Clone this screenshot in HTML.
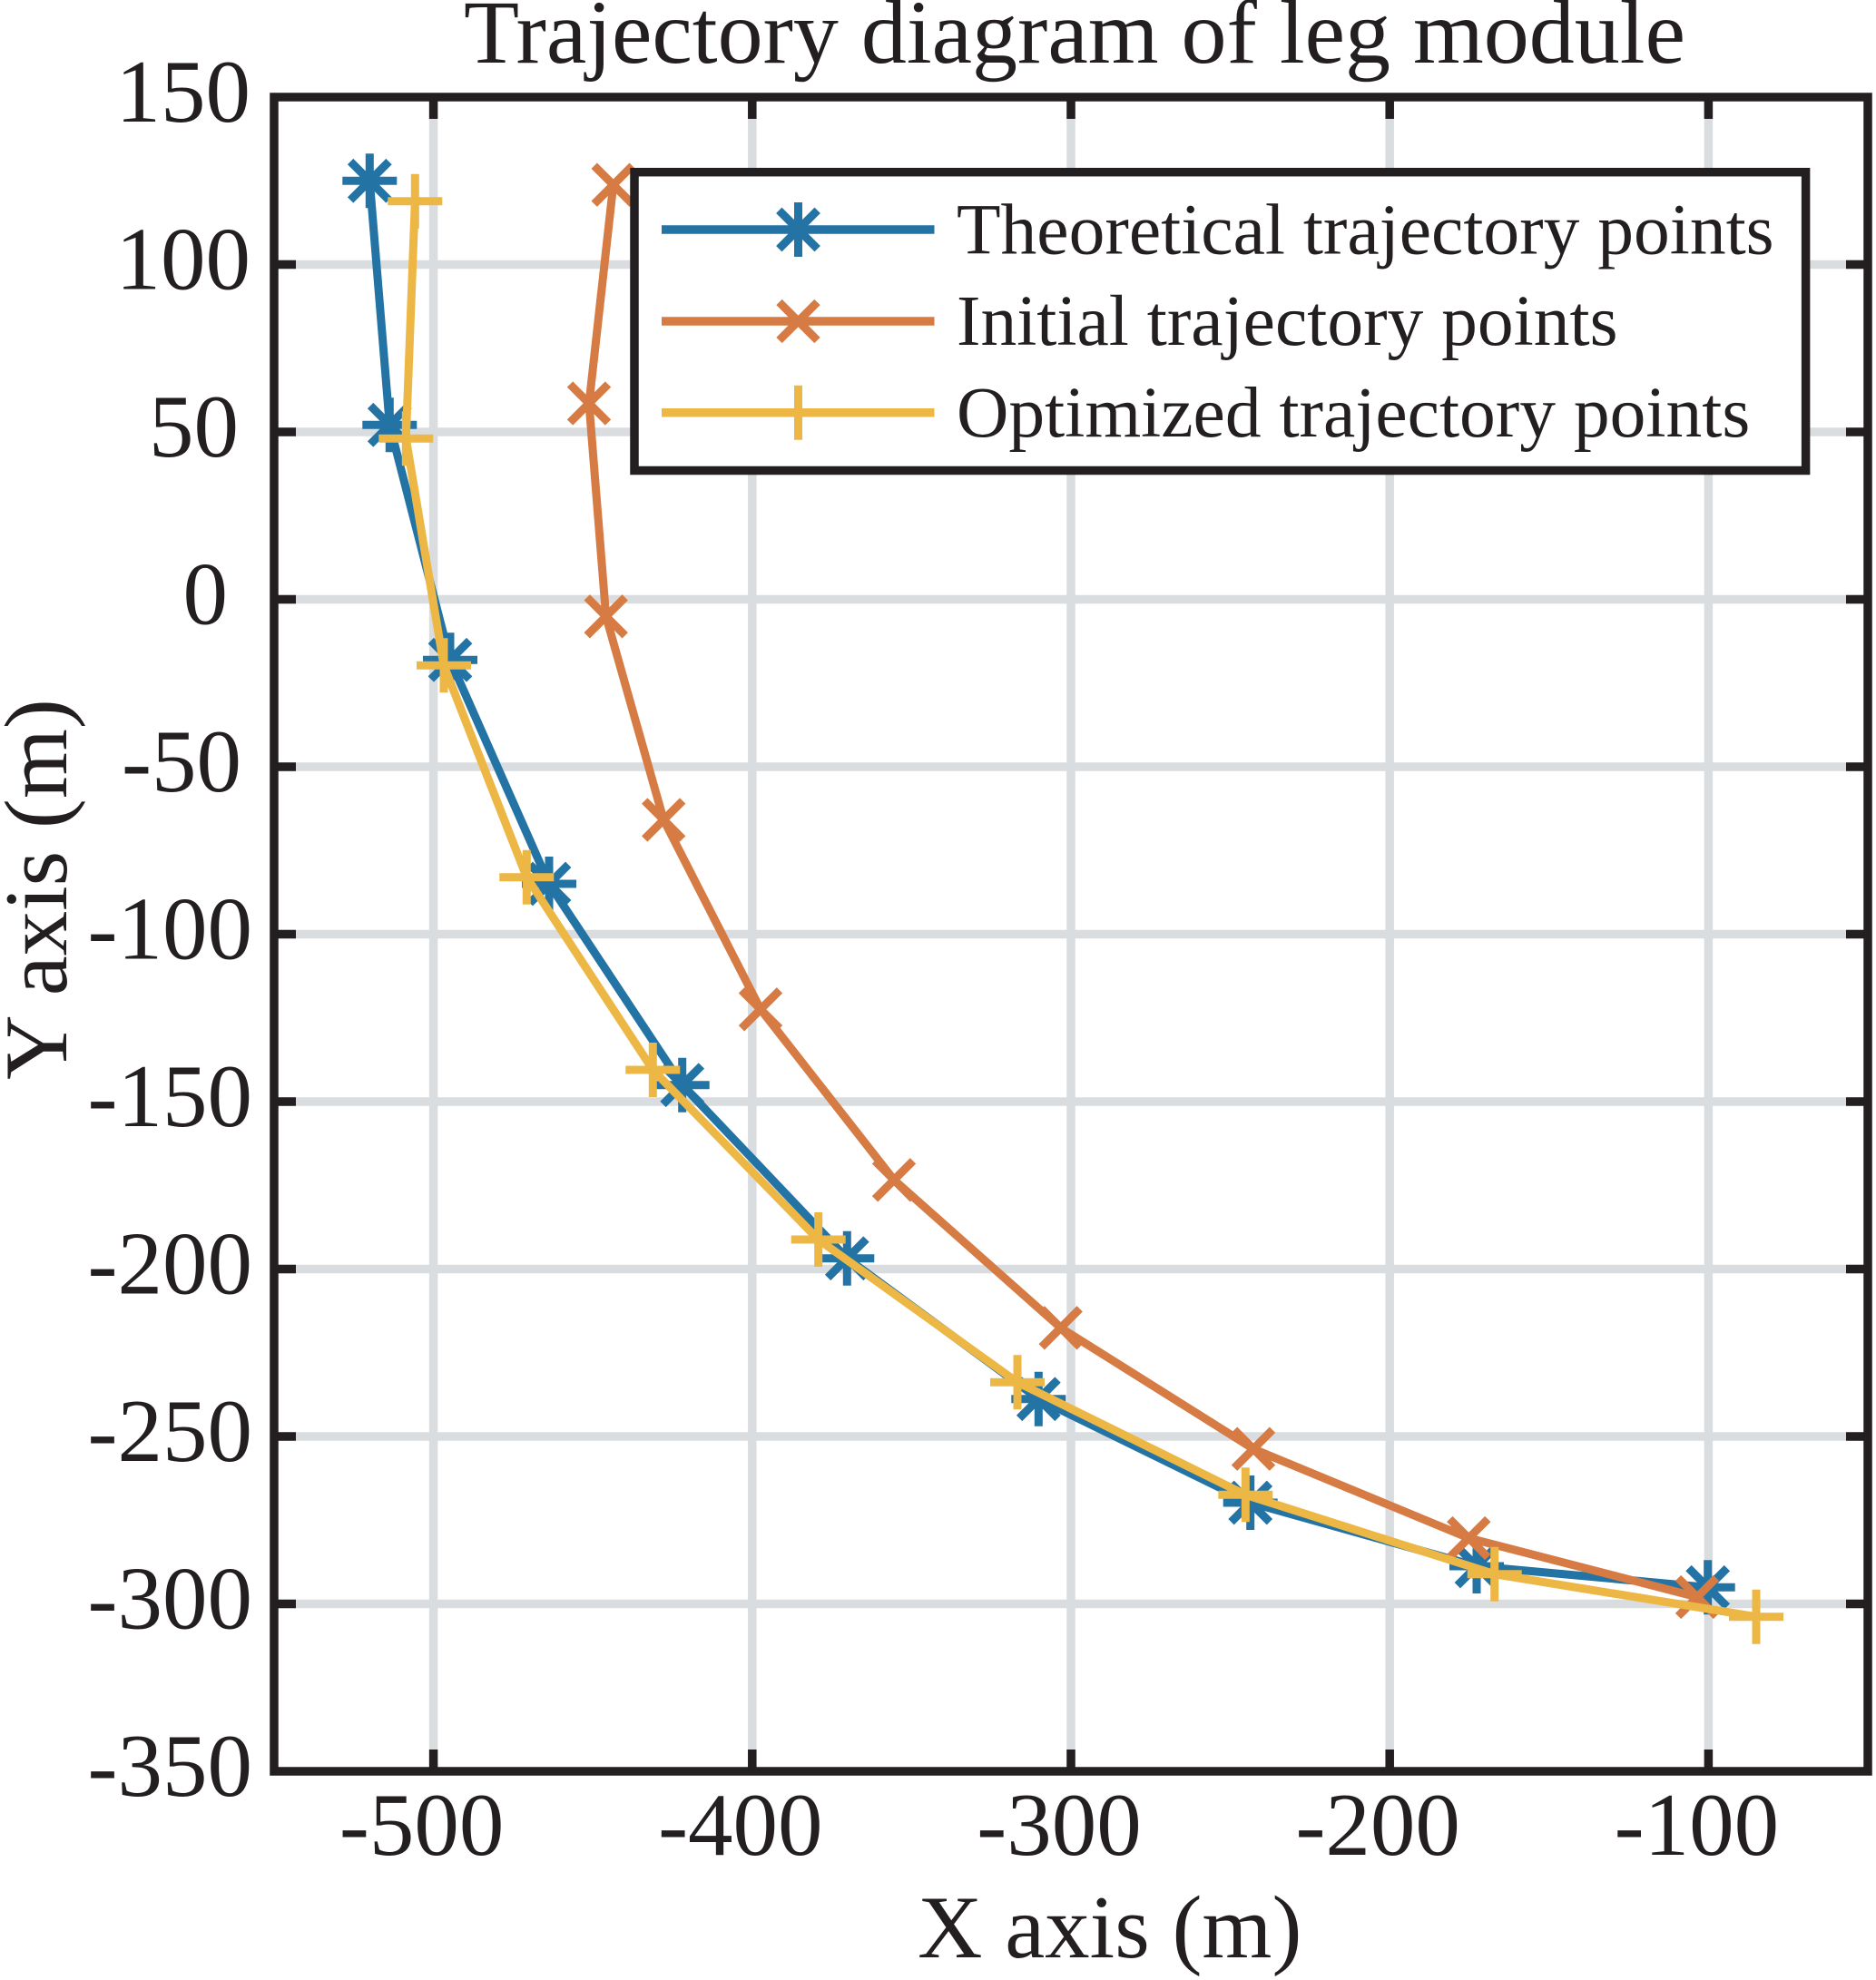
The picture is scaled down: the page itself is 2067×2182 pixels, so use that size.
<!DOCTYPE html>
<html>
<head>
<meta charset="utf-8">
<style>
  html, body { margin: 0; padding: 0; background: #ffffff; }
  svg { display: block; }
  text { font-family: "Liberation Serif", "Times New Roman", serif; fill: #231f20; }
</style>
</head>
<body>
<svg width="2067" height="2182" viewBox="0 0 2067 2182" xmlns="http://www.w3.org/2000/svg">
  <defs>
    <g id="mAst" fill="none" stroke-width="9" stroke-linecap="butt">
      <path d="M-30 0H30M0 -30V30M-21.2 -21.2L21.2 21.2M-21.2 21.2L21.2 -21.2"/>
    </g>
    <g id="mX" fill="none" stroke-width="9" stroke-linecap="butt">
      <path d="M-21 -21L21 21M-21 21L21 -21"/>
    </g>
    <g id="mPlus" fill="none" stroke-width="9" stroke-linecap="butt">
      <path d="M-30 0H30M0 -30V30"/>
    </g>
  </defs>

  <rect x="0" y="0" width="2067" height="2182" fill="#ffffff"/>

  <!-- grid -->
  <g stroke="#dadde0" stroke-width="9.5" fill="none">
    <path d="M477.6 107V1952M828.8 107V1952M1180 107V1952M1531.2 107V1952M1882.4 107V1952"/>
    <path d="M302 291.5H2058M302 476H2058M302 660.5H2058M302 845H2058M302 1029.5H2058M302 1214H2058M302 1398.5H2058M302 1583H2058M302 1767.5H2058"/>
  </g>

  <!-- ticks -->
  <g stroke="#231f20" stroke-width="9.5" fill="none">
    <path d="M477.6 1952V1928M828.8 1952V1928M1180 1952V1928M1531.2 1952V1928M1882.4 1952V1928"/>
    <path d="M477.6 107V131M828.8 107V131M1180 107V131M1531.2 107V131M1882.4 107V131"/>
    <path d="M302 291.5H326M302 476H326M302 660.5H326M302 845H326M302 1029.5H326M302 1214H326M302 1398.5H326M302 1583H326M302 1767.5H326"/>
    <path d="M2058 291.5H2034M2058 476H2034M2058 660.5H2034M2058 845H2034M2058 1029.5H2034M2058 1214H2034M2058 1398.5H2034M2058 1583H2034M2058 1767.5H2034"/>
  </g>

  <!-- Theoretical (blue) -->
  <g stroke="#2373a5" fill="none">
    <polyline stroke-width="9" stroke-linejoin="round" points="407.3,199.3 429.3,468.3 496,727.3 605,974 751.7,1195.7 933.3,1386.7 1144.3,1541.7 1377.7,1656 1627,1726 1881.7,1749.3"/>
    <use href="#mAst" x="407.3" y="199.3"/>
    <use href="#mAst" x="429.3" y="468.3"/>
    <use href="#mAst" x="496" y="727.3"/>
    <use href="#mAst" x="605" y="974"/>
    <use href="#mAst" x="751.7" y="1195.7"/>
    <use href="#mAst" x="933.3" y="1386.7"/>
    <use href="#mAst" x="1144.3" y="1541.7"/>
    <use href="#mAst" x="1377.7" y="1656"/>
    <use href="#mAst" x="1627" y="1726"/>
    <use href="#mAst" x="1881.7" y="1749.3"/>
  </g>

  <!-- Initial (orange) -->
  <g stroke="#d67b43" fill="none">
    <polyline stroke-width="9" stroke-linejoin="round" points="675.7,203.7 649,444.5 667.7,679.3 731.2,903.5 838,1112.3 985,1300.3 1168.7,1463.3 1381,1596.7 1618.3,1695 1870,1760"/>
    <use href="#mX" x="675.7" y="203.7"/>
    <use href="#mX" x="649" y="444.5"/>
    <use href="#mX" x="667.7" y="679.3"/>
    <use href="#mX" x="731.2" y="903.5"/>
    <use href="#mX" x="838" y="1112.3"/>
    <use href="#mX" x="985" y="1300.3"/>
    <use href="#mX" x="1168.7" y="1463.3"/>
    <use href="#mX" x="1381" y="1596.7"/>
    <use href="#mX" x="1618.3" y="1695"/>
    <use href="#mX" x="1870" y="1760"/>
  </g>

  <!-- Optimized (yellow) -->
  <g stroke="#edb745" fill="none">
    <polyline stroke-width="9" stroke-linejoin="round" points="457.3,221.7 447.3,483.3 489,733.3 580.3,966.7 719.3,1179 901.7,1366 1121,1523.3 1372.3,1647.3 1646.7,1734.7 1935,1781.7"/>
    <use href="#mPlus" x="457.3" y="221.7"/>
    <use href="#mPlus" x="447.3" y="483.3"/>
    <use href="#mPlus" x="489" y="733.3"/>
    <use href="#mPlus" x="580.3" y="966.7"/>
    <use href="#mPlus" x="719.3" y="1179"/>
    <use href="#mPlus" x="901.7" y="1366"/>
    <use href="#mPlus" x="1121" y="1523.3"/>
    <use href="#mPlus" x="1372.3" y="1647.3"/>
    <use href="#mPlus" x="1646.7" y="1734.7"/>
    <use href="#mPlus" x="1935" y="1781.7"/>
  </g>

  <!-- axes box -->
  <rect x="302" y="107" width="1756" height="1845" fill="none" stroke="#231f20" stroke-width="9.5"/>

  <!-- legend -->
  <rect x="699" y="189.7" width="1290.6" height="328.8" fill="#ffffff" stroke="#231f20" stroke-width="9.5"/>
  <line x1="729" y1="253" x2="1029.5" y2="253" stroke="#2373a5" stroke-width="9.5"/>
  <use href="#mAst" x="879.5" y="253" stroke="#2373a5"/>
  <line x1="729" y1="354" x2="1029.5" y2="354" stroke="#d67b43" stroke-width="9.5"/>
  <use href="#mX" x="879.5" y="354" stroke="#d67b43"/>
  <line x1="729" y1="454.8" x2="1029.5" y2="454.8" stroke="#edb745" stroke-width="9.5"/>
  <use href="#mPlus" x="879.5" y="454.8" stroke="#edb745"/>
  <g font-size="79.5">
    <text x="1054" y="279.5">Theoretical trajectory points</text>
    <text x="1054" y="380">Initial trajectory points</text>
    <text x="1054" y="481">Optimized trajectory points</text>
  </g>

  <!-- y tick labels -->
  <g font-size="99" text-anchor="end">
    <text x="276" y="134">150</text>
    <text x="276" y="318.5">100</text>
    <text x="263" y="503">50</text>
    <text x="251" y="687.5">0</text>
    <text x="266" y="872">-50</text>
    <text x="278" y="1056.5">-100</text>
    <text x="278" y="1241">-150</text>
    <text x="278" y="1425.5">-200</text>
    <text x="278" y="1610">-250</text>
    <text x="278" y="1794.5">-300</text>
    <text x="278" y="1979">-350</text>
  </g>

  <!-- x tick labels -->
  <g font-size="99" text-anchor="middle">
    <text x="464.6" y="2044">-500</text>
    <text x="815.8" y="2044">-400</text>
    <text x="1167" y="2044">-300</text>
    <text x="1518.2" y="2044">-200</text>
    <text x="1869.4" y="2044">-100</text>
  </g>

  <!-- axis labels & title -->
  <text x="1011" y="2157" font-size="99">X axis (m)</text>
  <text x="0" y="0" font-size="99" text-anchor="middle" transform="translate(73,980) rotate(-90)">Y axis (m)</text>
  <text x="511" y="69" font-size="100">Trajectory diagram of leg module</text>
</svg>
</body>
</html>
